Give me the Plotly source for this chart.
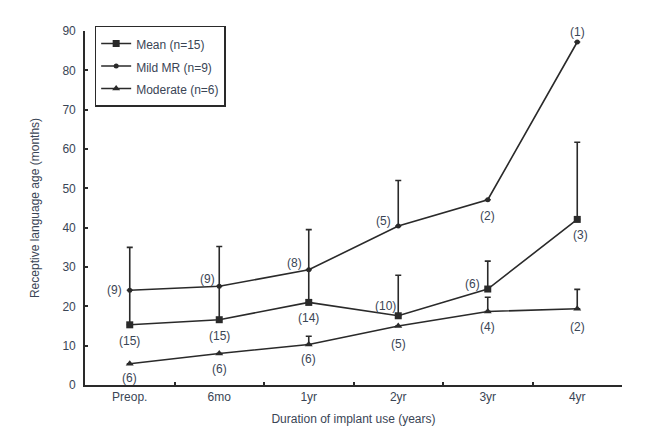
import plotly.graph_objects as go

categories = ["Preop.", "6mo", "1yr", "2yr", "3yr", "4yr"]

mean_vals = [15.3, 16.6, 21.0, 17.6, 24.4, 42.1]
mean_err = [19.7, 18.6, 18.5, 10.3, 7.1, 19.6]
mean_n = ["(15)", "(15)", "(14)", "(10)", "(6)", "(3)"]

mild_vals = [24.1, 25.1, 29.3, 40.4, 47.1, 87.2]
mild_err = [0, 0, 0, 11.6, 0, 0]
mild_n = ["(9)", "(9)", "(8)", "(5)", "(2)", "(1)"]

mod_vals = [5.4, 8.0, 10.3, 15.0, 18.7, 19.4]
mod_err = [0, 0, 2.1, 0, 3.6, 4.9]
mod_n = ["(6)", "(6)", "(6)", "(5)", "(4)", "(2)"]

LINE = "#2a2a2a"
TEXT = "#3a4555"
FONT = "Arial, Liberation Sans, sans-serif"

fig = go.Figure()

def add_series(name, vals, err, symbol, size):
    fig.add_trace(go.Scatter(
        x=categories, y=vals,
        name='<span style="font-size:12px">' + name + '</span>',
        mode="lines+markers",
        line=dict(color=LINE, width=1.6),
        marker=dict(symbol=symbol, size=size, color=LINE),
        error_y=dict(type="data", symmetric=False, array=err,
                     arrayminus=[0] * len(err), color=LINE,
                     thickness=1.6, width=3),
    ))

add_series("Mean (n=15)", mean_vals, mean_err, "square", 7)
add_series("Mild MR (n=9)", mild_vals, mild_err, "circle", 5)
add_series("Moderate (n=6)", mod_vals, mod_err, "triangle-up", 7)

# label offsets (px) per point
mild_off = [(-15, 0), (-12, 7), (-14, 7), (-15, 5), (0, -16), (0, 10)]
mean_off = [(0, -16), (0, -16), (0, -16), (-13, 10), (-15, 5), (3, -16)]
mod_off = [(0, -14), (0, -15), (0, -15), (0, -18), (0, -16), (0, -18)]

for vals, labels, offs in [(mild_vals, mild_n, mild_off),
                           (mean_vals, mean_n, mean_off),
                           (mod_vals, mod_n, mod_off)]:
    for c, v, t, (dx, dy) in zip(categories, vals, labels, offs):
        fig.add_annotation(x=c, y=v, text=t, showarrow=False,
                           xshift=dx, yshift=dy,
                           font=dict(family=FONT, size=12, color=TEXT))

fig.update_layout(
    width=648, height=430,
    margin=dict(l=77, r=34, t=23, b=53),
    paper_bgcolor="white", plot_bgcolor="white",
    font=dict(family=FONT, size=12, color=TEXT),
    showlegend=True,
    legend=dict(x=0.018, y=1.015, xanchor="left", yanchor="top",
                bordercolor=LINE, borderwidth=1.5, bgcolor="white",
                font=dict(family=FONT, size=15, color=TEXT),
                itemwidth=30, tracegroupgap=0),
    xaxis=dict(type="category", range=[-0.5, 5.5], showline=True,
               linecolor=LINE, linewidth=1.6, showgrid=False,
               ticks="inside", tickson="boundaries", ticklen=3,
               tickcolor=LINE, tickwidth=1.5,
               tickfont=dict(family=FONT, size=12, color=TEXT),
               title=dict(text="Duration of implant use (years)",
                          font=dict(family=FONT, size=12, color=TEXT),
                          standoff=11)),
    yaxis=dict(range=[0, 90], dtick=10, showline=True, linecolor=LINE,
               linewidth=1.6, showgrid=False, zeroline=False,
               ticks="inside", ticklen=3, tickcolor=LINE, tickwidth=1.5,
               ticklabelstandoff=5,
               tickfont=dict(family=FONT, size=12, color=TEXT),
               title=dict(text="Receptive language age (months)",
                          font=dict(family=FONT, size=12, color=TEXT),
                          standoff=20)),
)

fig.write_html("out.html")
